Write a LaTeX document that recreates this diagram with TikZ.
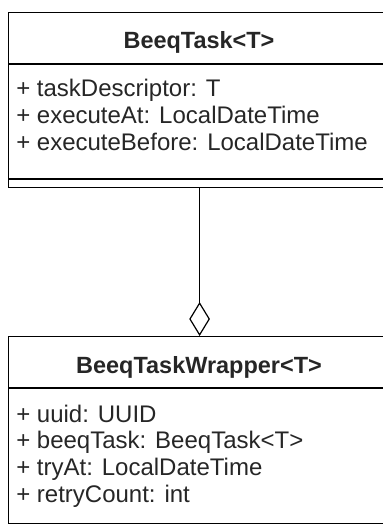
\documentclass[tikz,border=0pt]{standalone}
\usepackage{fontspec}
\setmainfont{Liberation Sans}
\usetikzlibrary{arrows.meta}
\begin{document}
\begin{tikzpicture}[x=0.75pt,y=-0.75pt]
\tikzset{
 classbox/.style={draw=black, line width=0.9pt, rectangle, anchor=north west, minimum width=286.5pt, inner sep=0pt},
 sepline/.style={draw=black, line width=0.9pt},
 titletext/.style={font=\fontsize{17.6}{20}\selectfont\bfseries, anchor=base, inner sep=0pt, text=black!85},
 attrtext/.style={font=\fontsize{18}{20}\selectfont, anchor=base west, inner sep=0pt, text=black!85},
 link/.style={draw=black, line width=0.9pt}
}
\useasboundingbox (0,0) rectangle (382,527);
% BeeqTask<T>
\node[classbox, minimum height=131.25pt] (task) at (8,12) {};
\draw[sepline] (task.west |- 0,64) -- (task.east |- 0,64);
\draw[sepline] (task.west |- 0,179) -- (task.east |- 0,179);
\node[titletext] (tasktitle) at (199,49) {BeeqTask<T>};
\node[attrtext] (a1) at (16,97) {+ taskDescriptor: T};
\node[attrtext] (a2) at (16,124) {+ executeAt: LocalDateTime};
\node[attrtext] (a3) at (16,151) {+ executeBefore: LocalDateTime};
% BeeqTaskWrapper<T>
\node[classbox, minimum height=140.25pt] (wrapper) at (8,336) {};
\draw[sepline] (wrapper.west |- 0,388) -- (wrapper.east |- 0,388);
\node[titletext] (wraptitle) at (199,373) {BeeqTaskWrapper<T>};
\node[attrtext] (b1) at (16,422) {+ uuid: UUID};
\node[attrtext] (b2) at (16,448) {+ beeqTask: BeeqTask<T>};
\node[attrtext] (b3) at (16,475) {+ tryAt: LocalDateTime};
\node[attrtext] (b4) at (16,502) {+ retryCount: int};
% aggregation
\draw[link, -{Diamond[open, length=25.5pt, width=15.5pt]}] (task.south) -- (wrapper.north);
\end{tikzpicture}
\end{document}
